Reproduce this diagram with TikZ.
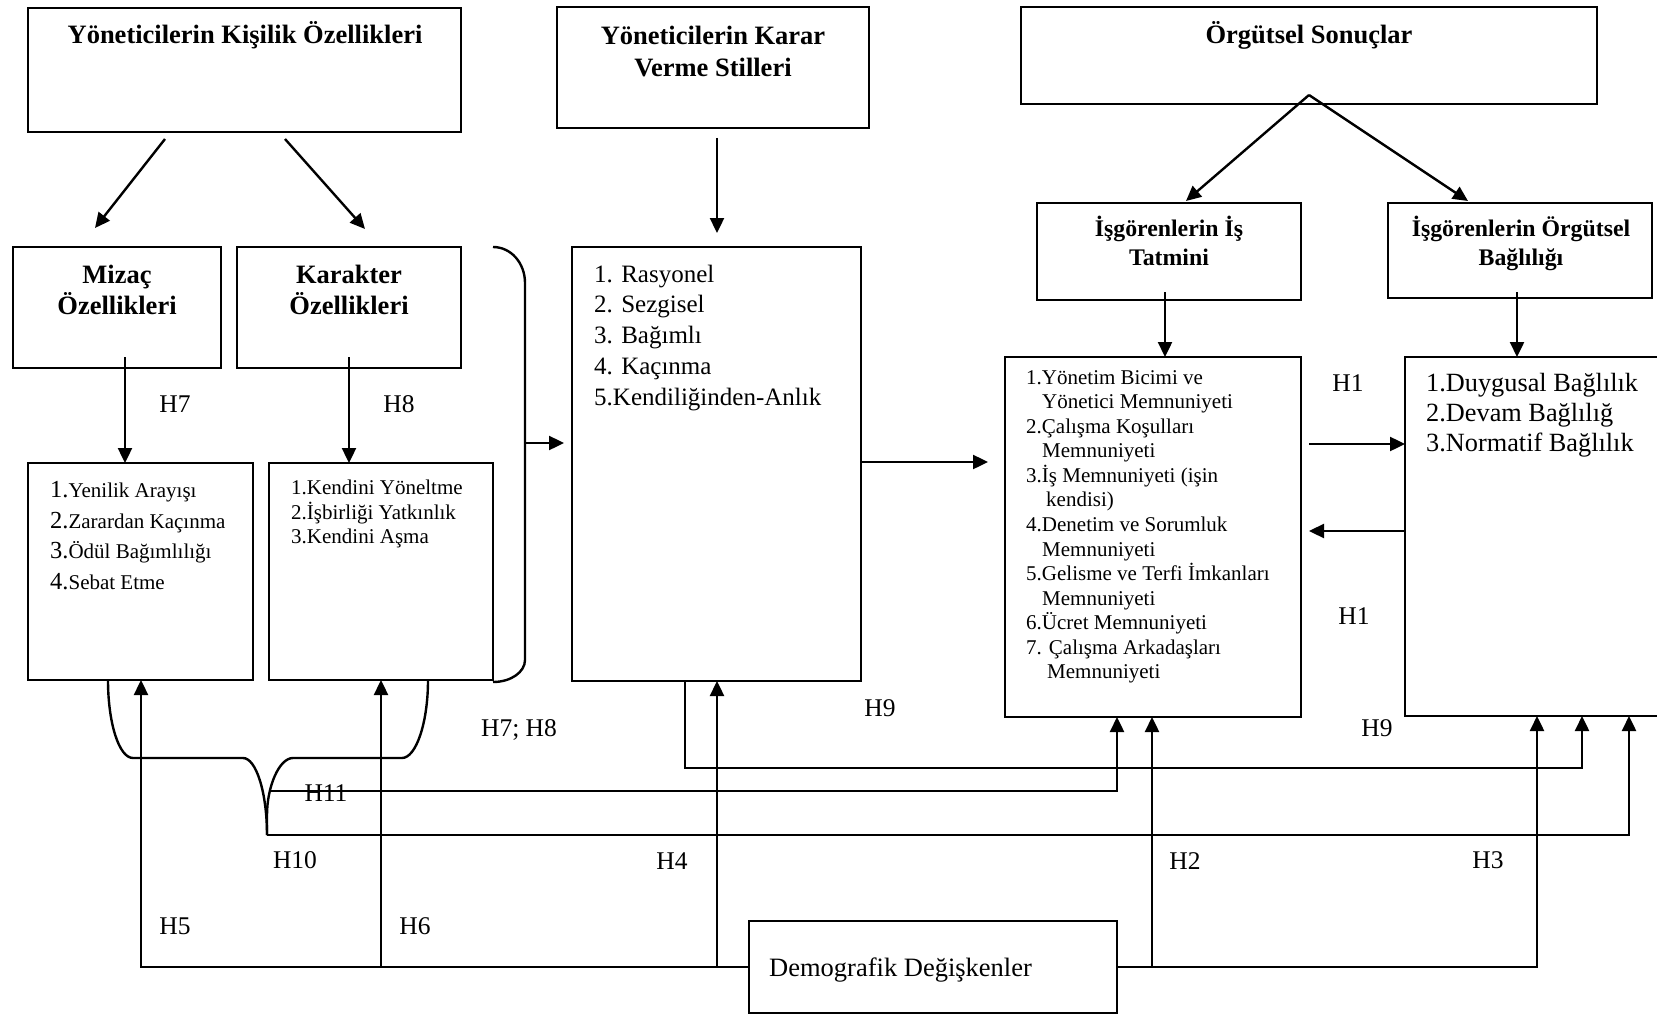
\documentclass[tikz,border=0pt]{standalone}
\usepackage{fontspec}
\setmainfont{Liberation Serif}
\usetikzlibrary{arrows.meta}

\newcommand\bignum[1]{{\fontsize{24.5}{30.7}\selectfont #1}}

\tikzset{
  ln/.style={line width=2.4pt},
  arr/.style={ln, -{Triangle[length=15pt,width=14pt]}},
  box/.style={draw, line width=2.4pt, inner sep=0pt, outer sep=0pt, anchor=north west},
  ttl/.style={font=\fontsize{26.5}{32}\selectfont\bfseries, inner sep=0pt},
  ttlm/.style={ttl, align=center, anchor=north},
  hdr/.style={font=\fontsize{23.8}{29}\selectfont\bfseries, inner sep=0pt, align=center, anchor=north},
  itm/.style={inner sep=0pt, anchor=north west, align=left},
  lbl/.style={font=\fontsize{25.5}{30}\selectfont, inner sep=0pt},
}

\begin{document}
\begin{tikzpicture}[x=1pt, y=-1pt]
\useasboundingbox (0,0) rectangle (1657,1014);

% ---------- boxes ----------
\node[box, minimum width=433pt, minimum height=124pt] (A) at (28,8) {};
\node[box, minimum width=312pt, minimum height=121pt] (B) at (557,7) {};
\node[box, minimum width=576pt, minimum height=97pt]  (C) at (1021,7) {};
\node[box, minimum width=208pt, minimum height=121pt] (M) at (13,247) {};
\node[box, minimum width=224pt, minimum height=121pt] (K) at (237,247) {};
\node[box, minimum width=225pt, minimum height=217pt] (D1) at (28,463) {};
\node[box, minimum width=224pt, minimum height=217pt] (D2) at (269,463) {};
\node[box, minimum width=289pt, minimum height=434pt] (E) at (572,247) {};
\node[box, minimum width=296pt, minimum height=360pt] (F) at (1005,357) {};
\node[box, minimum width=275pt, minimum height=359pt] (G) at (1405,357) {};
\node[box, minimum width=264pt, minimum height=97pt]  (H) at (1037,203) {};
\node[box, minimum width=264pt, minimum height=95pt]  (I) at (1388,203) {};
\node[box, minimum width=368pt, minimum height=92pt]  (J) at (749,921) {};

% ---------- titles ----------
\node[ttl, anchor=base] (At) at (245,44) {Yöneticilerin Kişilik Özellikleri};
\node[ttlm] (Bt) at (713,26) {Yöneticilerin Karar\\Verme Stilleri};
\node[ttl, anchor=base] (Ct) at (1309,44) {Örgütsel Sonuçlar};
\node[ttlm, font=\fontsize{26.5}{31}\selectfont\bfseries] (Mt) at (117,265) {Mizaç\\Özellikleri};
\node[ttlm, font=\fontsize{26.5}{31}\selectfont\bfseries] (Kt) at (349,265) {Karakter\\Özellikleri};
\node[hdr] (Ht) at (1169,216) {İşgörenlerin İş\\Tatmini};
\node[hdr] (It) at (1521,216) {İşgörenlerin Örgütsel\\Bağlılığı};

% ---------- item lists ----------
\node[itm, font=\fontsize{21}{30.7}\selectfont] (D1t) at (50,481)
  {\bignum{1.}Yenilik Arayışı\\\bignum{2.}Zarardan Kaçınma\\\bignum{3.}Ödül Bağımlılığı\\\bignum{4.}Sebat Etme};
\node[itm, font=\fontsize{21}{24.3}\selectfont] (D2t) at (291,480)
  {1.Kendini Yöneltme\\2.İşbirliği Yatkınlık\\3.Kendini Aşma};
\node[itm, font=\fontsize{25}{30.8}\selectfont] (Et) at (594,264.5)
  {1. Rasyonel\\2. Sezgisel\\3. Bağımlı\\4. Kaçınma\\5.Kendiliğinden-Anlık};
\node[itm, font=\fontsize{21}{24.57}\selectfont] (Ft) at (1026,370)
  {1.Yönetim Bicimi ve\\
   \hspace*{16pt}Yönetici Memnuniyeti\\
   2.Çalışma Koşulları\\
   \hspace*{16pt}Memnuniyeti\\
   3.İş Memnuniyeti (işin\\
   \hspace*{20pt}kendisi)\\
   4.Denetim ve Sorumluk\\
   \hspace*{16pt}Memnuniyeti\\
   5.Gelisme ve Terfi İmkanları\\
   \hspace*{16pt}Memnuniyeti\\
   6.Ücret Memnuniyeti\\
   7. Çalışma Arkadaşları\\
   \hspace*{21pt}Memnuniyeti};
\node[itm, font=\fontsize{26.3}{30.1}\selectfont] (Gt) at (1426,373)
  {1.Duygusal Bağlılık\\2.Devam Bağlılığ\\3.Normatif Bağlılık};
\node[inner sep=0pt, anchor=base west, font=\fontsize{26.5}{30}\selectfont] (Jt) at (769,976)
  {Demografik Değişkenler};

% ---------- hypothesis labels ----------
\node[lbl] (h7)  at (175,404) {H7};
\node[lbl] (h8)  at (399,404) {H8};
\node[lbl] (h1a) at (1348,383) {H1};
\node[lbl] (h1b) at (1354,616) {H1};
\node[lbl] (h9a) at (880,708) {H9};
\node[lbl] (h9b) at (1377,728) {H9};
\node[lbl] (h78) at (519,730) {H7; H8};
\node[lbl] (h11) at (326,793) {H11};
\node[lbl] (h10) at (295,860) {H10};
\node[lbl] (h4)  at (672,861) {H4};
\node[lbl] (h2)  at (1185,861) {H2};
\node[lbl] (h3)  at (1488,860) {H3};
\node[lbl] (h5)  at (175,926) {H5};
\node[lbl] (h6)  at (415,926) {H6};

% ---------- top-down arrows ----------
\coordinate (a1) at (165,139); \coordinate (a1e) at (95,228);
\coordinate (a2) at (285,139); \coordinate (a2e) at (365,229);
\draw[arr] (a1) -- (a1e);
\draw[arr] (a2) -- (a2e);

\coordinate (b1) at (717,138); \coordinate (b1e) at (717,233);
\draw[arr] (b1) -- (b1e);

\coordinate (c0) at (1309,95);
\coordinate (c1) at (1186,201); \coordinate (c2) at (1468,201);
\draw[arr] (c0) -- (c1);
\draw[arr] (c0) -- (c2);

\coordinate (m0) at (125,357); \draw[arr] (m0) -- (m0 |- D1.north);
\coordinate (k0) at (349,357); \draw[arr] (k0) -- (k0 |- D2.north);
\coordinate (h0) at (1165,292); \draw[arr] (h0) -- (h0 |- F.north);
\coordinate (i0) at (1517,292); \draw[arr] (i0) -- (i0 |- G.north);

% ---------- bracket joining the personality facets ----------
\draw[ln] (493,247) .. controls (511,247) and (525,263) .. (525,283)
  -- (525,660) .. controls (525,672) and (511,682) .. (493,682);
\coordinate (br) at (525,443); \coordinate (bre) at (564,443);
\draw[arr] (br) -- (bre);

% ---------- decision styles to satisfaction ----------
\coordinate (ef) at (988,462);
\draw[arr] (ef -| E.east) -- (ef);

% ---------- H1 between satisfaction and commitment ----------
\coordinate (p1) at (1309,444); \draw[arr] (p1) -- (p1 -| G.west);
\coordinate (p2) at (1309,531); \draw[arr] (p2 -| G.west) -- (p2);

% ---------- lower brace under the facet lists ----------
\draw[ln] (108,680) .. controls (108,723) and (119,758) .. (133,758)
  -- (243,758) .. controls (256,758) and (267,792) .. (267,835);
\draw[ln] (428,680) .. controls (428,723) and (416,758) .. (402,758)
  -- (293,758) .. controls (279,758) and (267,787) .. (267,815) -- (267,835);

% ---------- H10, H11, H9 paths ----------
\coordinate (q10) at (267,835); \coordinate (q10e) at (1629,835);
\draw[arr] (q10) -- (q10e) -- (q10e |- G.south);
\coordinate (q11) at (269,791); \coordinate (q11e) at (1117,791);
\draw[arr] (q11) -- (q11e) -- (q11e |- F.south);
\coordinate (q9) at (685,768); \coordinate (q9e) at (1582,768);
\draw[arr] (q9 |- E.south) -- (q9) -- (q9e) -- (q9e |- G.south);

% ---------- demographic variables ----------
\coordinate (d1) at (141,967); \coordinate (d2) at (381,967);
\coordinate (d4) at (717,967); \coordinate (d5) at (1152,967);
\coordinate (d3) at (1537,967);
\draw[arr] (J.west) -- (d1) -- (d1 |- D1.south);
\draw[arr] (d2) -- (d2 |- D2.south);
\draw[arr] (d4) -- (d4 |- E.south);
\draw[arr] (J.east) -- (d3) -- (d3 |- G.south);
\draw[arr] (d5) -- (d5 |- F.south);

\end{tikzpicture}
\end{document}
